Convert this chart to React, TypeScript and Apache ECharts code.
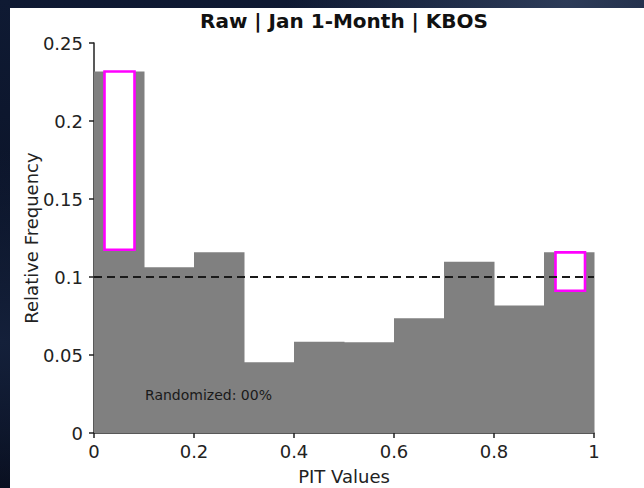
import React, { useEffect, useRef } from "react";
import * as echarts from "echarts";

// Histogram bins (PIT value ranges) and relative frequencies
const binStarts = [0, 0.1, 0.2, 0.3, 0.4, 0.5, 0.6, 0.7, 0.8, 0.9];
const binWidth = 0.1;
const frequencies = [0.2317, 0.1062, 0.1158, 0.0454, 0.0585, 0.0581, 0.0735, 0.1098, 0.0818, 0.1158];

// Highlight boxes: [x0, x1, yTop, yBottom]
const highlightBoxes = [
  [0.021, 0.081, 0.2317, 0.1175],
  [0.923, 0.982, 0.1158, 0.0912],
];

// Reference line (uniform expectation)
const referenceLevel = 0.1;

const xTicks = [0, 0.2, 0.4, 0.6, 0.8, 1];
const yTicks = [0, 0.05, 0.1, 0.15, 0.2, 0.25];

const titleText = "Raw | Jan 1-Month | KBOS";
const xName = "PIT Values";
const yName = "Relative Frequency";
const noteText = "Randomized: 00%";

const FONT = "DejaVu Sans";

export default function App() {
  const ref = useRef<HTMLDivElement>(null);
  useEffect(() => {
    if (!ref.current) return;
    const chart = echarts.init(ref.current, undefined, { renderer: "svg" });
    const histData = binStarts.map((s, i) => [s, s + binWidth, frequencies[i]]);
    chart.setOption({
      animation: false,
      backgroundColor: "transparent",
      textStyle: { fontFamily: FONT },
      title: {
        text: titleText,
        left: 344,
        top: 11,
        padding: 0,
        textAlign: "center",
        textStyle: { fontFamily: FONT, fontWeight: "bold", fontSize: 20, color: "#111" },
      },
      graphic: [
        {
          type: "rect",
          z: -10,
          silent: true,
          shape: { x: 10, y: 8, width: 634, height: 480 },
          style: { fill: "#ffffff" },
        },
        {
          type: "text",
          x: 145,
          y: 395,
          z: 10,
          style: {
            text: noteText,
            fontFamily: FONT,
            fontSize: 14,
            fill: "#1a1a1a",
            verticalAlign: "middle",
            textAlign: "left",
          },
        },
      ],
      grid: {
        left: 94,
        right: 50,
        top: 43,
        bottom: 55,
        containLabel: false,
        outerBoundsMode: "none",
      },
      xAxis: {
        type: "value",
        min: xTicks[0],
        max: xTicks[xTicks.length - 1],
        interval: 0.2,
        name: xName,
        nameLocation: "middle",
        nameGap: 34,
        nameMoveOverlap: false,
        nameTextStyle: { fontFamily: FONT, fontSize: 18, color: "#222" },
        axisLine: { show: true, onZero: false, lineStyle: { color: "#222", width: 1.5 } },
        axisTick: { show: true, inside: false, length: 5, lineStyle: { color: "#222", width: 1.5 } },
        axisLabel: { fontFamily: FONT, fontSize: 18, color: "#222", margin: 9 },
        splitLine: { show: false },
      },
      yAxis: {
        type: "value",
        min: yTicks[0],
        max: yTicks[yTicks.length - 1],
        interval: 0.05,
        name: yName,
        nameLocation: "middle",
        nameRotate: 90,
        nameGap: 54,
        nameMoveOverlap: false,
        nameTextStyle: { fontFamily: FONT, fontSize: 18, color: "#222" },
        axisLine: { show: true, lineStyle: { color: "#222", width: 1.5 } },
        axisTick: { show: true, inside: false, length: 5, lineStyle: { color: "#222", width: 1.5 } },
        axisLabel: { fontFamily: FONT, fontSize: 18, color: "#222", margin: 11 },
        splitLine: { show: false },
      },
      series: [
        {
          type: "custom",
          name: "histogram",
          z: 2,
          encode: { x: [0, 1], y: 2 },
          data: histData,
          renderItem: (params: any, api: any) => {
            const p0 = api.coord([api.value(0), api.value(2)]);
            const p1 = api.coord([api.value(1), 0]);
            return {
              type: "rect",
              shape: { x: p0[0], y: p0[1], width: p1[0] - p0[0] + 0.5, height: p1[1] - p0[1] },
              style: { fill: "#808080" },
            };
          },
        },
        {
          type: "custom",
          name: "highlight",
          z: 3,
          encode: { x: [0, 1], y: [2, 3] },
          data: highlightBoxes,
          renderItem: (params: any, api: any) => {
            const p0 = api.coord([api.value(0), api.value(2)]);
            const p1 = api.coord([api.value(1), api.value(3)]);
            return {
              type: "rect",
              shape: { x: p0[0], y: p0[1], width: p1[0] - p0[0], height: p1[1] - p0[1] },
              style: { fill: "#ffffff", stroke: "#ff00ff", lineWidth: 2.6 },
            };
          },
        },
        {
          type: "line",
          name: "reference",
          z: 4,
          symbol: "none",
          data: [
            [xTicks[0], referenceLevel],
            [xTicks[xTicks.length - 1], referenceLevel],
          ],
          lineStyle: { color: "#1a1a1a", width: 2, type: [8, 5] },
        },
      ],
    });
    return () => chart.dispose();
  }, []);

  return (
    <div
      style={{
        position: "fixed",
        left: 0,
        top: 0,
        width: 644,
        height: 488,
        background:
          "radial-gradient(ellipse at 88% 0%, #2c3b58 0%, rgba(20,32,58,0) 35%), radial-gradient(ellipse at 0% 70%, #14203a 0%, rgba(8,12,26,0) 40%), linear-gradient(180deg, #0f1a33 0%, #0a1226 60%, #060a18 100%)",
      }}
    >
      <div ref={ref} style={{ width: 644, height: 488 }} />
    </div>
  );
}
